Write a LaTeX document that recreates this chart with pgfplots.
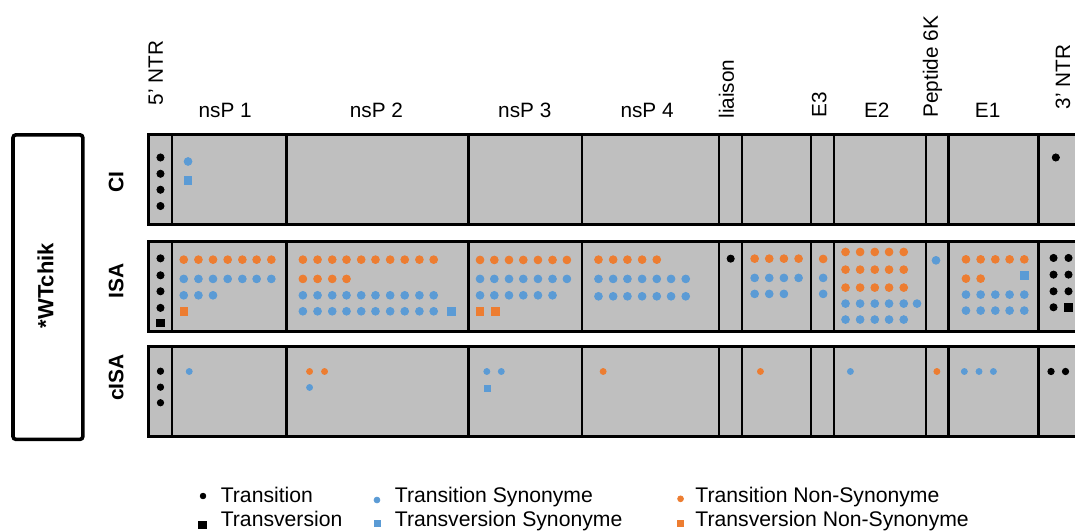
\documentclass[border=0pt]{standalone}
\usepackage{fontspec}
\setmainfont{Liberation Sans}
\usepackage{pgfplots}
\pgfplotsset{compat=1.18}

\definecolor{tsblue}{HTML}{5B9BD5}
\definecolor{tnorange}{HTML}{ED7D31}
\definecolor{panelgray}{HTML}{BFBFBF}

% one row of genome panels between y=#1 (top) and y=#2 (bottom), in pixels
\newcommand\genrow[2]{%
  \fill[panelgray] (axis cs:149,#1) rectangle (axis cs:1076,#2);
  \pgfplotsinvokeforeach{172,287,469,583,720,743,812,835,927,950,1040}{%
    \draw[line width=1.2pt] (axis cs:##1,#1) -- (axis cs:##1,#2);}
  \draw[line width=1.5pt] (axis cs:1076,#1) -- (axis cs:149,#1)
    -- (axis cs:149,#2) -- (axis cs:1076,#2);
}

\pgfplotsset{
  trans/.style={only marks, mark=*, black, mark size=1.8pt},
  transv/.style={only marks, mark=square*, black, mark size=1.9pt},
  ts/.style={only marks, mark=*, tsblue, mark size=1.95pt},
  tvs/.style={only marks, mark=square*, tsblue, mark size=1.9pt},
  tns/.style={only marks, mark=*, tnorange, mark size=1.95pt},
  tvns/.style={only marks, mark=square*, tnorange, mark size=1.9pt},
}

\begin{document}
\begin{tikzpicture}
\begin{axis}[
    scale only axis,
    width=538pt, height=265.5pt,
    xmin=0, xmax=1076, ymin=0, ymax=531,
    y dir=reverse,
    hide axis,
    clip=false
]
\path (axis cs:0,0) rectangle (axis cs:1076,531);

% panels
\genrow{135}{225}
\genrow{242}{332}
\genrow{347}{437}

% left box
\draw[line width=1.8pt, rounded corners=1.5pt] (axis cs:13,135) rectangle (axis cs:83,440);
\node[rotate=90, anchor=base, inner sep=0, font=\fontsize{11}{13}\selectfont\bfseries]
  at (axis cs:53.5,286) {*WTchik};

% row labels
\begin{scope}[every node/.style={rotate=90, anchor=base, inner sep=0,
    font=\fontsize{10.5}{12}\selectfont\bfseries}]
\node at (axis cs:123.5,182) {CI};
\node at (axis cs:123.5,281) {ISA};
\node at (axis cs:123.5,378) {cISA};
\end{scope}

% header labels
\begin{scope}[every node/.style={inner sep=0, font=\fontsize{10.4}{12}\selectfont}]
\node[anchor=base] at (axis cs:225.5,117.5) {nsP 1};
\node[anchor=base] at (axis cs:377,117.5) {nsP 2};
\node[anchor=base] at (axis cs:525.5,117.5) {nsP 3};
\node[anchor=base] at (axis cs:648,117.5) {nsP 4};
\node[anchor=base] at (axis cs:878,117.5) {E2};
\node[anchor=base] at (axis cs:989,117.5) {E1};
\node[rotate=90, anchor=base west] at (axis cs:163,106) {5' NTR};
\node[rotate=90, anchor=base west] at (axis cs:735,119) {liaison};
\node[rotate=90, anchor=base west] at (axis cs:827.5,118) {E3};
\node[rotate=90, anchor=base west] at (axis cs:939.3,118) {Peptide 6K};
\node[rotate=90, anchor=base west] at (axis cs:1071.5,110) {3' NTR};
\end{scope}

% ---- CI ----
\addplot[trans] coordinates {(160.7,157.7) (160.7,174) (160.7,190) (160.7,206.3) (1057.3,157.7)};
\addplot[ts] coordinates {(188.3,161.7)};
\addplot[tvs] coordinates {(188.3,180.7)};

% ---- ISA ----
\addplot[trans] coordinates {
  (160.7,258.7) (160.7,275.7) (160.7,291.7) (160.7,308.3) (731.7,259)
  (1055,258.3) (1070,258.3) (1055,275) (1070,275) (1055,291.7) (1070,291.7) (1055,307.7)};
\addplot[transv] coordinates {(160.7,323.3) (1070,307.7)};
\addplot[tns] coordinates {
  (184,260) (198.7,260) (213.3,260) (228,260) (242.7,260) (257,260) (271.7,260)
  (303.3,260) (318,260) (332.7,260) (347,260) (361.7,260) (376,260) (390.7,260) (405.3,260) (420,260) (434.3,260)
  (303.3,279.3) (318,279.3) (332.7,279.3) (347,279.3)
  (480.7,260.3) (495,260.3) (509.7,260.3) (524,260.3) (538.7,260.3) (553.3,260.3) (567.7,260.3)
  (599.3,260) (614,260) (628.3,260) (643,260) (657.7,260)
  (755.7,259) (770.3,259) (785,259) (799.7,259)
  (824.3,259.3)
  (846.7,252.3) (861.3,252.3) (876,252.3) (890.3,252.3) (905,252.3)
  (846.7,270) (861.3,270) (876,270) (890.3,270) (905,270)
  (846.7,288) (861.3,288) (876,288) (890.3,288) (905,288)
  (967.3,259.7) (982,259.7) (996.7,259.7) (1011,259.7) (1025.7,259.7)
  (967.3,279) (982,279)};
\addplot[ts] coordinates {
  (184,279.3) (198.7,279.3) (213.3,279.3) (228,279.3) (242.7,279.3) (257,279.3) (271.7,279.3)
  (184,295.7) (198.7,295.7) (213.3,295.7)
  (303.3,295.7) (318,295.7) (332.7,295.7) (347,295.7) (361.7,295.7) (376,295.7) (390.7,295.7) (405.3,295.7) (420,295.7) (434.3,295.7)
  (303.3,311.7) (318,311.7) (332.7,311.7) (347,311.7) (361.7,311.7) (376,311.7) (390.7,311.7) (405.3,311.7) (420,311.7) (434.3,311.7)
  (480.7,279.3) (495,279.3) (509.7,279.3) (524,279.3) (538.7,279.3) (553.3,279.3) (567.7,279.3)
  (480.7,295.7) (495,295.7) (509.7,295.7) (524,295.7) (538.7,295.7) (553.3,295.7)
  (599.3,279.3) (614,279.3) (628.3,279.3) (643,279.3) (657.7,279.3) (672,279.3) (686.7,279.3)
  (599.3,296.7) (614,296.7) (628.3,296.7) (643,296.7) (657.7,296.7) (672,296.7) (686.7,296.7)
  (755.7,278.3) (770.3,278.3) (785,278.3) (799.7,278.3)
  (755.7,294.3) (770.3,294.3) (785,294.3)
  (824.3,278.3) (824.3,294.3)
  (846.7,304) (861.3,304) (876,304) (890.3,304) (905,304) (918.3,304)
  (846.7,320) (861.3,320) (876,320) (890.3,320) (905,320)
  (937.3,260.7)
  (967.3,295) (982,295) (996.7,295) (1011,295) (1025.7,295)
  (967.3,311) (982,311) (996.7,311) (1011,311) (1025.7,311)};
\addplot[tvs] coordinates {(452,311.7) (1025.7,275.7)};
\addplot[tvns] coordinates {(184,311.7) (480.7,311.7) (496,311.7)};

% ---- cISA ----
\addplot[trans, mark size=1.6pt] coordinates {(160.7,371.7) (160.7,387.7) (160.7,403.3) (1052.5,372) (1067,372)};
\addplot[ts, mark size=1.5pt] coordinates {
  (189.5,372) (310,388) (487.5,372) (502,372) (851.6,372) (965.7,372) (980.4,372) (994.8,372)};
\addplot[tns, mark size=1.5pt] coordinates {(310,372) (325,372) (604,372) (761.5,372) (938.2,372)};
\addplot[tvs, mark size=1.6pt] coordinates {(488,389)};

% ---- legend ----
\addplot[trans, mark size=1.4pt] coordinates {(203.3,496.7)};
\addplot[transv, mark size=1.8pt] coordinates {(202.7,525.7)};
\addplot[ts, mark size=1.45pt] coordinates {(377.5,500.7)};
\addplot[tvs, mark size=1.6pt] coordinates {(377.7,524.3)};
\addplot[tns, mark size=1.45pt] coordinates {(681.5,499.5)};
\addplot[tvns, mark size=1.6pt] coordinates {(681.5,524.3)};
\begin{scope}[every node/.style={anchor=base west, inner sep=0, font=\fontsize{10.6}{12}\selectfont}]
\node at (axis cs:220.7,503.3) {Transition};
\node at (axis cs:220.7,527.5) {Transversion};
\node at (axis cs:395,503.3) {Transition Synonyme};
\node at (axis cs:395,527.5) {Transversion Synonyme};
\node at (axis cs:696,503.3) {Transition Non-Synonyme};
\node at (axis cs:696,527.5) {Transversion Non-Synonyme};
\end{scope}
\end{axis}
\end{tikzpicture}
\end{document}
